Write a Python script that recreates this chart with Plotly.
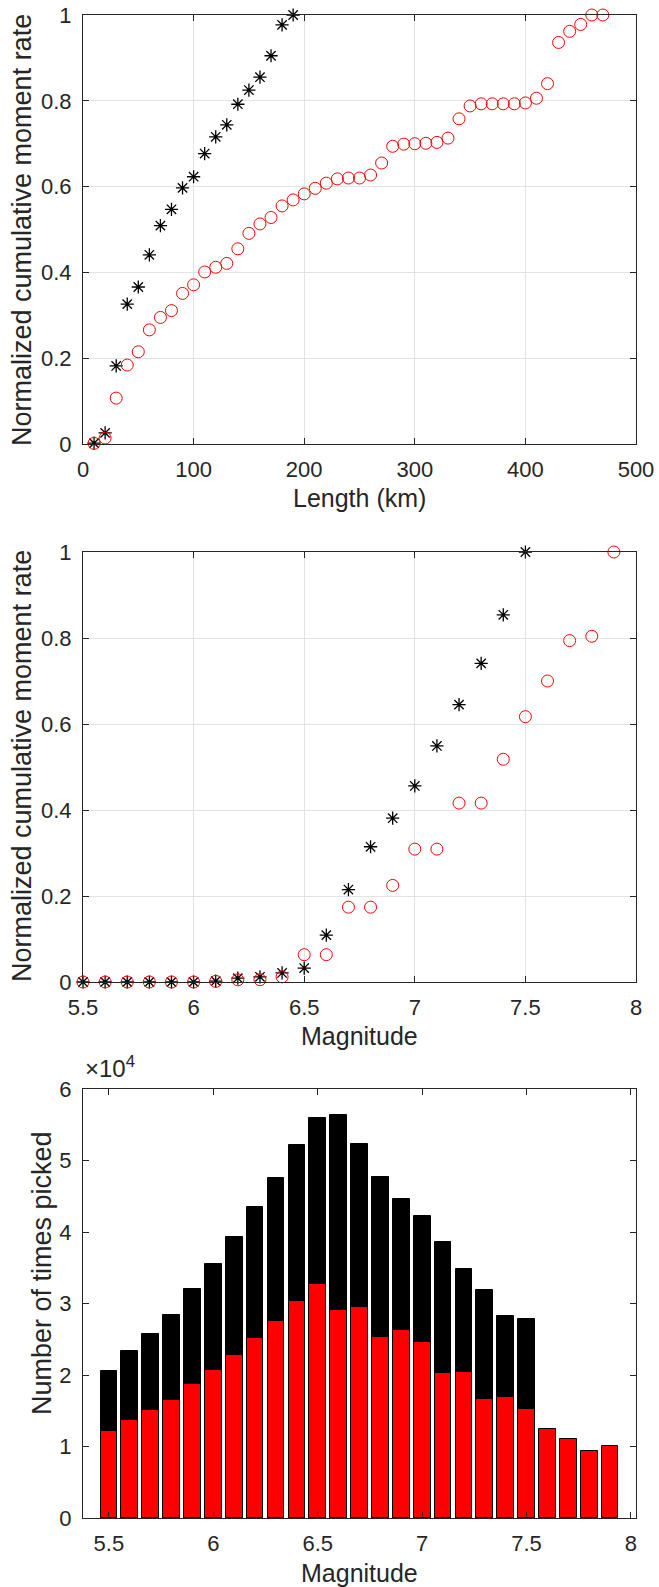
import plotly.graph_objects as go

# Panel 1: cumulative moment rate against fault length
length_black = [10, 20, 30, 40, 50, 60, 70, 80, 90, 100, 110, 120, 130, 140, 150, 160, 170, 180, 190]
rate_black = [0.002, 0.026, 0.182, 0.326, 0.366, 0.441, 0.509, 0.547, 0.597, 0.623, 0.677, 0.716,
              0.744, 0.792, 0.825, 0.855, 0.905, 0.977, 1.0]
length_red = [10, 20, 30, 40, 50, 60, 70, 80, 90, 100, 110, 120, 130, 140, 150, 160, 170, 180, 190,
              200, 210, 220, 230, 240, 250, 260, 270, 280, 290, 300, 310, 320, 330, 340, 350, 360,
              370, 380, 390, 400, 410, 420, 430, 440, 450, 460, 470]
rate_red = [0.0015, 0.014, 0.107, 0.184, 0.215, 0.266, 0.295, 0.311, 0.351, 0.371, 0.401, 0.412,
            0.421, 0.455, 0.491, 0.513, 0.528, 0.555, 0.569, 0.583, 0.596, 0.608, 0.618, 0.620,
            0.620, 0.627, 0.655, 0.694, 0.699, 0.700, 0.701, 0.703, 0.713, 0.758, 0.788, 0.793,
            0.793, 0.793, 0.793, 0.795, 0.806, 0.840, 0.936, 0.962, 0.978, 1.0, 1.0]

# Panel 2: cumulative moment rate against magnitude
mag_black = [5.5, 5.6, 5.7, 5.8, 5.9, 6.0, 6.1, 6.2, 6.3, 6.4, 6.5, 6.6, 6.7, 6.8, 6.9, 7.0, 7.1,
             7.2, 7.3, 7.4, 7.5]
mrate_black = [0.0, 0.0, 0.0, 0.0, 0.0, 0.0, 0.002, 0.009, 0.012, 0.021, 0.0325, 0.109, 0.215,
               0.3145, 0.381, 0.456, 0.549, 0.645, 0.741, 0.854, 1.0]
mag_red = [5.5, 5.6, 5.7, 5.8, 5.9, 6.0, 6.1, 6.2, 6.3, 6.4, 6.5, 6.6, 6.7, 6.8, 6.9, 7.0, 7.1,
           7.2, 7.3, 7.4, 7.5, 7.6, 7.7, 7.8, 7.9]
mrate_red = [0.0, 0.0, 0.0, 0.0, 0.0, 0.0, 0.0015, 0.005, 0.0054, 0.012, 0.0635, 0.0635, 0.174,
             0.174, 0.2246, 0.309, 0.309, 0.416, 0.416, 0.518, 0.617, 0.700, 0.794, 0.804, 1.0]

# Panel 3: number of times each magnitude was picked
pick_mag_black = [5.5, 5.6, 5.7, 5.8, 5.9, 6.0, 6.1, 6.2, 6.3, 6.4, 6.5, 6.6, 6.7, 6.8, 6.9, 7.0,
                  7.1, 7.2, 7.3, 7.4, 7.5]
picks_black = [20540, 23300, 25700, 28360, 32000, 35560, 39300, 43500, 47600, 52200, 55900, 56300,
               52300, 47700, 44550, 42200, 38600, 34860, 31870, 28300, 27800]
pick_mag_red = [5.5, 5.6, 5.7, 5.8, 5.9, 6.0, 6.1, 6.2, 6.3, 6.4, 6.5, 6.6, 6.7, 6.8, 6.9, 7.0,
                7.1, 7.2, 7.3, 7.4, 7.5, 7.6, 7.7, 7.8, 7.9]
picks_red = [12120, 13660, 15100, 16570, 18720, 20730, 22790, 25180, 27610, 30300, 32760, 29060,
             29570, 25360, 26350, 24610, 20310, 20450, 16660, 16940, 15300, 12400, 11090, 9310,
             10060]

rate_ticks = [0, 0.2, 0.4, 0.6, 0.8, 1]
rate_labels = ["0", "0.2", "0.4", "0.6", "0.8", "1"]
length_ticks = [0, 100, 200, 300, 400, 500]
mag_ticks = [5.5, 6, 6.5, 7, 7.5, 8]
mag_labels = ["5.5", "6", "6.5", "7", "7.5", "8"]
pick_ticks = [0, 10000, 20000, 30000, 40000, 50000, 60000]
pick_labels = ["0", "1", "2", "3", "4", "5", "6"]

W, H = 659, 1587
FONT = "Liberation Sans, Arial, Helvetica, sans-serif"
INK = "#262626"
GRID = "#e3e3e3"


def ydom(top_px, bottom_px):
    return [1 - bottom_px / H, 1 - top_px / H]


def px_x(v):
    return v / W


def px_y(v):
    return 1 - v / H


xdom = [83 / W, 636 / W]

fig = go.Figure()

star = dict(symbol="asterisk-open", size=11, color="black", line=dict(color="black", width=1.3))
ring = dict(symbol="circle-open", size=12, color="#ff0000", line=dict(color="#ff0000", width=1))

fig.add_trace(go.Scatter(x=length_black, y=rate_black, mode="markers", marker=star,
                         cliponaxis=False, xaxis="x", yaxis="y", showlegend=False))
fig.add_trace(go.Scatter(x=length_red, y=rate_red, mode="markers", marker=ring,
                         cliponaxis=False, xaxis="x", yaxis="y", showlegend=False))

fig.add_trace(go.Scatter(x=mag_black, y=mrate_black, mode="markers", marker=star,
                         cliponaxis=False, xaxis="x2", yaxis="y2", showlegend=False))
fig.add_trace(go.Scatter(x=mag_red, y=mrate_red, mode="markers", marker=ring,
                         cliponaxis=False, xaxis="x2", yaxis="y2", showlegend=False))

fig.add_trace(go.Bar(x=pick_mag_black, y=picks_black, width=0.08, marker=dict(color="black",
                     line=dict(color="black", width=1)), xaxis="x3", yaxis="y3", showlegend=False))
fig.add_trace(go.Bar(x=pick_mag_red, y=picks_red, width=0.08, marker=dict(color="#ff0000",
                     line=dict(color="black", width=1)), xaxis="x3", yaxis="y3", showlegend=False))

axis_common = dict(showline=True, linecolor=INK, linewidth=1, mirror="ticks", ticks="inside",
                   ticklen=6, tickcolor=INK, tickwidth=1, zeroline=False, automargin=False,
                   tickfont=dict(family=FONT, size=22, color=INK))
xaxis_common = dict(ticklabelstandoff=6, **axis_common)
yaxis_common = dict(ticklabelstandoff=6, **axis_common)

fig.update_layout(
    width=W, height=H, margin=dict(l=0, r=0, t=0, b=0),
    paper_bgcolor="white", plot_bgcolor="white", barmode="overlay", bargap=0,
    xaxis=dict(domain=xdom, anchor="y", range=[0, 500], tickvals=length_ticks,
               showgrid=True, gridcolor=GRID, **xaxis_common),
    yaxis=dict(domain=ydom(15, 444), anchor="x", range=[0, 1], tickvals=rate_ticks,
               ticktext=rate_labels, showgrid=True, gridcolor=GRID, **yaxis_common),
    xaxis2=dict(domain=xdom, anchor="y2", range=[5.5, 8], tickvals=mag_ticks, ticktext=mag_labels,
                showgrid=True, gridcolor=GRID, **xaxis_common),
    yaxis2=dict(domain=ydom(552, 982), anchor="x2", range=[0, 1], tickvals=rate_ticks,
                ticktext=rate_labels, showgrid=True, gridcolor=GRID, **yaxis_common),
    xaxis3=dict(domain=xdom, anchor="y3", range=[5.376, 8.024], tickvals=mag_ticks,
                ticktext=mag_labels, showgrid=False, **xaxis_common),
    yaxis3=dict(domain=ydom(1089, 1518), anchor="x3", range=[0, 60000], tickvals=pick_ticks,
                ticktext=pick_labels, showgrid=False, **yaxis_common),
)

# Axis titles and the exponent label of the count axis
xtitle_font = dict(family=FONT, size=25, color=INK)
ytitle_font = dict(family=FONT, size=27, color=INK)
titles = [
    ("Length (km)", 359.5, 498, 0, xtitle_font),
    ("Magnitude", 359.5, 1036, 0, xtitle_font),
    ("Magnitude", 359.5, 1573, 0, xtitle_font),
    ("Normalized cumulative moment rate", 22, 230, -90, ytitle_font),
    ("Normalized cumulative moment rate", 22, 766, -90, ytitle_font),
    ("Number of times picked", 42, 1273, -90, ytitle_font),
]
annotations = [dict(text=t, xref="paper", yref="paper", x=px_x(x), y=px_y(y), textangle=a,
                    xanchor="center", yanchor="middle", showarrow=False, font=f)
               for t, x, y, a, f in titles]
annotations.append(dict(text="×10<sup>4</sup>", xref="paper", yref="paper", x=px_x(83),
                        y=px_y(1084), xanchor="left", yanchor="bottom", showarrow=False,
                        font=dict(family=FONT, size=24, color=INK)))
fig.update_layout(annotations=annotations)

fig.write_html("out.html")
